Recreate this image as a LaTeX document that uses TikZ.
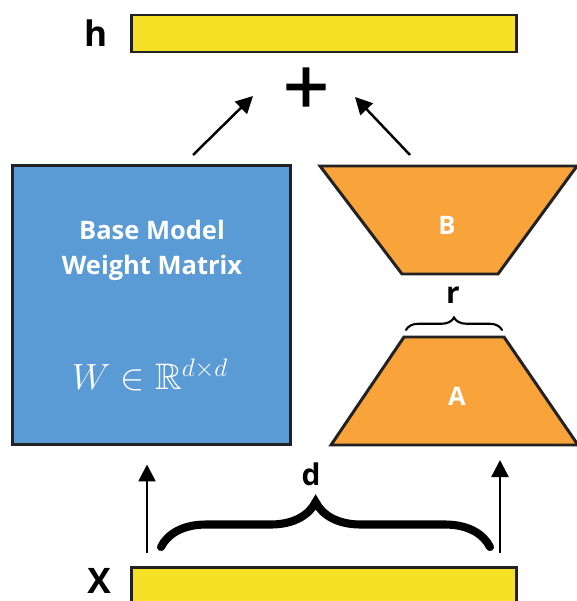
\documentclass[tikz,border=0pt]{standalone}
\usepackage{amsmath,amssymb}
\usepackage{fontspec}
\setsansfont{Open Sans}
\newfontfamily\plusfont[FakeBold=3]{DejaVu Sans}
\usetikzlibrary{arrows.meta,positioning,decorations.pathreplacing}
\definecolor{vecfill}{HTML}{F6E126}
\definecolor{basefill}{HTML}{5B9BD5}
\definecolor{lorafill}{HTML}{F9A33B}
\definecolor{edge}{HTML}{222222}
\tikzset{vec/.style={draw=edge,line width=1.7pt,fill=vecfill,minimum width=7.72cm,minimum height=0.74cm,inner sep=0pt},
base/.style={draw=edge,line width=1.7pt,fill=basefill,minimum width=5.58cm,minimum height=5.6cm,inner sep=0pt},
lora/.style={draw=edge,line width=1.7pt,fill=lorafill,line join=miter},
tag/.style={font=\sffamily\bfseries\fontsize{20}{24}\selectfont,inner sep=0pt},
inner/.style={text=white,font=\sffamily\bfseries\fontsize{14.5}{20}\selectfont,align=center,inner sep=0pt},
flow/.style={-{Triangle[length=3.4mm,width=3.4mm]},line width=1.4pt},
curly/.style={decorate,line cap=round}}

\begin{document}
\begin{tikzpicture}[x=0.02cm,y=-0.02cm]
\useasboundingbox (0,0) rectangle (577,601);
% vectors
\node[vec] (hvec) at (324,33.5) {};
\node[vec] (xvec) at (324,585.5) {};
\node[tag,left=0.44cm of hvec] (hlabel) {h};
\node[tag] (xlabel) at (99,581) {X};
\node[font=\plusfont\fontsize{34}{34}\selectfont,inner sep=0pt] (plus) at (306,87) {+};
% frozen weights
\node[base] (base) at (151.5,305) {};
\node[inner] (basetext) at (152,250) {Base Model\\Weight Matrix};
\node[text=white,inner sep=0pt,font=\fontsize{21}{22}\selectfont] (weight) at (150,375) {$W \in \mathbb{R}^{d\times d}$};
% low-rank adapters
\draw[lora] (320,166) -- (577,166) -- (498,274) -- (402,274) -- cycle;
\draw[lora] (404,337) -- (504,337) -- (578,445) -- (331,445) -- cycle;
\node[inner] (B) at (447,225) {B};
\node[inner] (A) at (457,396) {A};
\node[tag,font=\sffamily\bfseries\fontsize{17}{20}\selectfont] (rlabel) at (453,295) {r};
\node[tag,font=\sffamily\bfseries\fontsize{17}{20}\selectfont] (dlabel) at (311,474) {d};
\coordinate (rL) at (406,330);
\coordinate (rR) at (502,330);
\coordinate (dL) at (161,547);
\coordinate (dR) at (490,547);
\draw[curly,decoration={brace,amplitude=0.25cm},line width=1.2pt] (rL) -- (rR);
\draw[curly,decoration={brace,amplitude=0.9cm,aspect=0.47},line width=4.6pt] (dL) -- (dR);
% connectors
\coordinate (inL) at (147,553);
\coordinate (inR) at (500,553);
\coordinate (loraIn) at (500,460);
\coordinate (outL) at (193,155);
\coordinate (outR) at (410,155);
\coordinate (sumL) at (253,96);
\coordinate (sumR) at (355,97);
\draw[flow,shorten >=0.36cm] (inL) -- (inL |- base.south);
\draw[flow] (inR) -- (loraIn);
\draw[flow] (outL) -- (sumL);
\draw[flow] (outR) -- (sumR);
\end{tikzpicture}
\end{document}
